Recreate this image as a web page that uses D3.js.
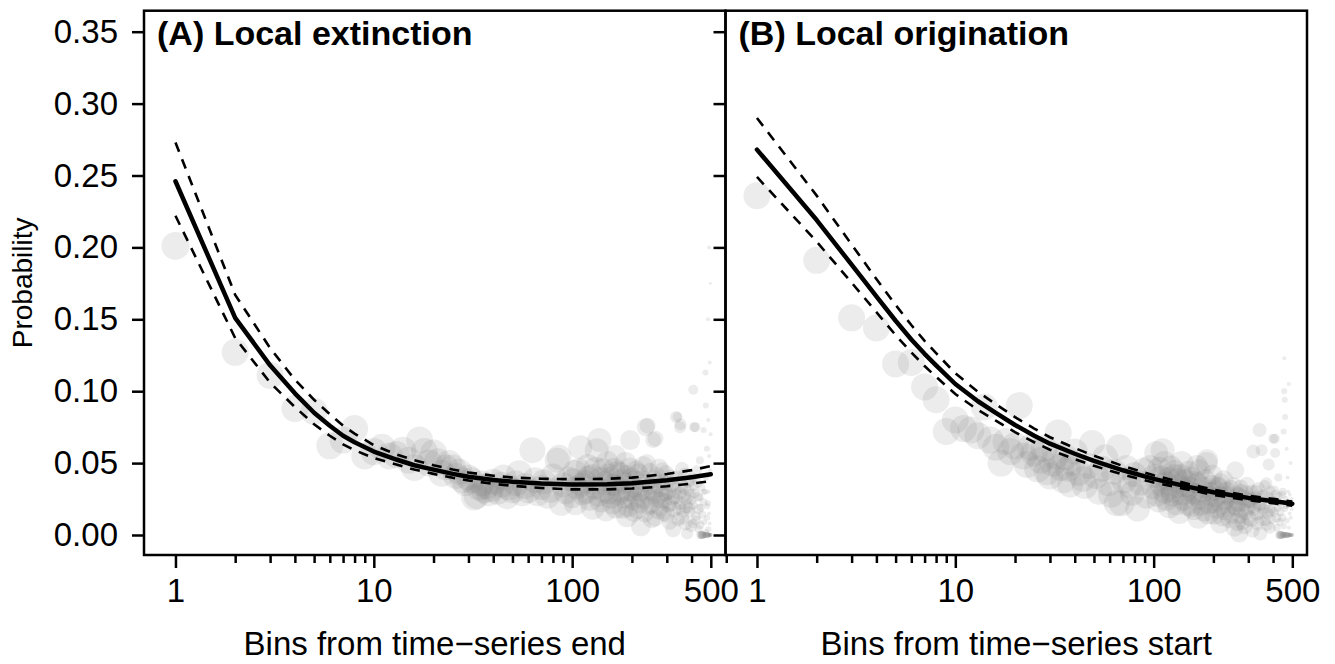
<!DOCTYPE html>
<html>
<head>
<meta charset="utf-8">
<script src="https://cdnjs.cloudflare.com/ajax/libs/d3/7.8.5/d3.min.js"></script>
<style>
  body { margin: 0; background: #fff; }
  svg text { font-family: "Liberation Sans", Arial, Helvetica, sans-serif; fill: #000; }
</style>
</head>
<body>
<script>
// ---- data ----
// scatter points: [bins, probability, radius]
var extPoints = [
  [1,.201,14],[2,.127,13.5],[3,.111,13.5],[4,.088,13.5],[5,.086,13.5],[6,.062,13.5],[7,.066,13.5],
  [8,.074,13.5],[9,.055,13.5],[10,.058,13.5],[11,.061,13.5],[12,.055,13.5],[13,.056,13.5],[14,.059,13.5],
  [15,.052,13.5],[16,.047,13.5],[17,.066,13.5],[18,.058,13.5],[19,.050,13.5],[20,.057,13.5],[21,.051,13.5],
  [22,.043,13.5],[23,.047,13],[24,.050,13],[25,.047,13],[26,.041,13],[27,.044,13],[28,.038,13],[29,.036,13],
  [30,.040,13],[31,.038,13],[32,.026,13],[33,.027,13],[34,.033,13],[35,.036,13],[36,.031,13],[37,.034,13],
  [38,.029,13],[39,.032,13],[40,.037,13],[42,.030,13],[44,.035,13],[45,.040,13],[47,.027,13],[48,.033,13],
  [50,.031,13],[52,.036,13],[54,.043,13],[56,.029,13],[58,.034,13],[60,.031,13],[63,.059,13],[65,.038,13],
  [67,.029,13],[70,.033,12.5],[72,.037,12.5],[75,.027,12.5],[78,.031,12.5],[80,.041,12.5],[84,.052,12.5],
  [86,.054,12.5],[88,.022,12.5],[90,.035,12.5],[93,.030,12.5],[96,.039,12.5],[100,.027,12],[103,.044,12],
  [106,.033,12],[110,.061,12],[113,.029,12],[116,.037,12],[120,.048,12],[123,.025,12],[126,.041,12],
  [130,.033,12],[133,.059,12],[137,.066,12],[140,.024,12],[143,.045,12],[146,.036,12],[150,.051,11],
  [153,.029,11],[156,.040,11],[160,.022,11],[163,.046,11],[165,.055,11],[168,.034,11],[172,.028,11],
  [175,.043,11],[180,.019,11],[183,.036,11],[186,.050,11],[189,.013,11],[192,.031,11],[196,.066,10],
  [199,.040,10],[202,.024,10],[205,.033,10],[210,.045,10],[214,.018,10],[218,.030,10],[222,.006,10],
  [226,.038,10],[230,.025,10],[235,.075,9],[238,.050,9],[240,.076,8],[244,.020,9],[248,.034,9],[252,.011,9],
  [256,.066,8],[260,.028,9],[263,.067,8],[267,.041,9],[272,.017,9],[276,.032,9],[280,.024,9],[285,.045,8],
  [290,.015,8],[295,.029,8],[300,.036,8],[305,.021,8],[310,.009,8],[315,.040,8],[320,.026,8],[323,.004,8],
  [328,.031,8],[334,.082,6],[340,.082,5],[345,.019,7],[350,.075,6],[352,.077,6],[355,.034,7],[360,.012,7],
  [365,.027,7],[370,.042,7],[375,.020,7],[380,.001,6],[386,.031,6],[390,.016,6],[395,.038,6],[400,.024,5],
  [405,.008,5],[408,.101,5],[410,.034,5],[412,.075,5],[418,.075,5],[420,.013,5],[425,.045,5],[430,.027,5],
  [435,.004,4],[440,.052,4],[445,.019,4],[450,0,4],[455,0,4],[460,.073,3],[462,.030,3],[465,0,3],
  [470,.113,3],[472,.090,3],[474,.040,3],[476,0,3],[478,.060,3],[480,.020,3],[482,0,3],[484,.150,2],
  [485,.080,2],[487,0,2],[488,.030,2],[490,.200,2],[491,.055,2],[492,0,2],[494,.120,2],[495,0,2],
  [496,.045,2],[497,.175,1.5],[498,0,2],[499,.070,2],[500,0,2],
  // the dense part of the cloud
  [101,.038,12],[104,.022,12],[108,.045,12],[112,.035,12],[118,.030,12],[121,.040,12],[127,.019,12],
  [131,.046,12],[135,.028,12],[139,.039,12],[144,.031,12],[148,.017,11],[152,.042,11],[157,.026,11],
  [161,.035,11],[166,.019,11],[170,.044,11],[174,.030,11],[178,.038,11],[182,.026,11],[187,.041,11],
  [191,.020,11],[195,.047,10],[200,.030,10],[204,.016,10],[208,.038,10],[212,.026,10],[216,.043,10],
  [220,.022,10],[224,.031,10],[228,.048,10],[233,.015,9],[237,.036,9],[242,.027,9],[246,.044,9],
  [250,.021,9],[254,.030,9],[258,.039,9],[262,.012,9],[265,.025,9],[269,.035,9],[274,.047,9],[278,.019,9],
  [282,.028,8],[287,.037,8],[292,.024,8],[297,.043,8],[302,.014,8],[307,.030,8],[312,.022,8],[318,.035,8],
  [325,.018,8],[331,.027,8],[337,.040,7],[342,.011,7],[348,.029,7],[353,.022,7],[358,.046,7],[362,.017,7],
  [368,.033,7],[372,.008,7],[378,.025,6],[383,.037,6],[388,.019,6],[393,.028,6],[398,.006,6],[403,.040,5],
  [407,.021,5],[415,.029,5],[422,.010,5],[428,.036,5],[433,.018,5],[438,.026,4],[443,.007,4],[448,.033,4],
  [453,.014,4],[458,.023,4],[463,.009,3],[468,.030,3],[473,.002,3],[479,.012,3],[483,.022,3],[486,.004,3],
  [489,.015,2],[493,.008,2],
  [442,0,4],[447,0,4],[452,0,4],[457,0,3],[467,0,3],[472,0,3],[479,0,3],[484,0,3],[489,0,2],[494,0,2],[497,0,2]
];

var origPoints = [
  [1,.236,13.5],[2,.191,13.5],[3,.151,13.5],[4,.144,13.5],[5,.119,13.5],[6,.120,13.5],[7,.103,13.5],
  [8,.094,13.5],[9,.072,13.5],[10,.080,13.5],[11,.074,13.5],[12,.073,13.5],[13,.069,13.5],[14,.089,13.5],
  [15,.066,13.5],[16,.061,13.5],[17,.050,13.5],[18,.065,13.5],[19,.058,13.5],[20,.062,13.5],[21,.090,13.5],
  [22,.055,13.5],[23,.049,13.5],[24,.061,13.5],[25,.057,13.5],[26,.046,13.5],[27,.052,13.5],[28,.060,13.5],
  [29,.044,13.5],[30,.041,13.5],[31,.050,13.5],[32,.055,13.5],[33,.071,13.5],[34,.047,13.5],[35,.038,13],
  [36,.054,13],[37,.046,13],[38,.035,13],[39,.050,13],[40,.058,13],[42,.043,13],[44,.039,13],[45,.034,13],
  [47,.048,13],[49,.064,13],[51,.041,13],[53,.030,13],[55,.046,13],[57,.054,13],[59,.036,13],[61,.028,13],
  [63,.044,13],[65,.022,13],[67,.061,13],[69,.022,13],[71,.038,13],[73,.047,12.5],[76,.034,12.5],
  [78,.029,12.5],[80,.042,12.5],[83,.018,12.5],[86,.036,12.5],[89,.045,12.5],[92,.027,12.5],[96,.047,12.5],
  [100,.033,12],[103,.057,12],[106,.024,12],[109,.040,12],[111,.059,12],[114,.030,12],[117,.036,12],
  [120,.020,12],[122,.047,12],[125,.028,12],[128,.041,12],[132,.038,12],[135,.016,12],[138,.050,12],
  [142,.025,12],[145,.034,11],[147,.031,11],[150,.044,11],[154,.020,11],[158,.029,11],[162,.037,11],
  [165,.048,11],[168,.012,11],[172,.025,11],[176,.033,11],[180,.017,11],[185,.050,11],[186,.052,11],
  [190,.022,11],[194,.030,10],[198,.042,10],[202,.014,10],[206,.026,10],[210,.034,10],[212,.033,10],
  [216,.008,10],[220,.021,10],[225,.038,10],[230,.017,10],[235,.028,9],[240,.011,9],[245,.032,9],
  [250,.023,9],[255,.005,9],[258,.045,9],[262,.019,9],[266,.027,9],[270,.001,9],[272,.013,8],[276,.030,8],
  [280,.009,8],[285,.022,8],[290,.016,8],[295,.035,8],[300,.012,8],[305,.025,8],[311,.024,8],[315,.003,7],
  [318,.058,7],[322,.018,7],[328,.030,7],[334,.008,7],[340,.021,7],[342,.073,7],[345,.001,7],[350,.059,6],
  [355,.015,6],[360,.028,6],[365,.010,6],[370,.036,6],[375,.015,6],[380,.049,6],[385,.005,6],[390,.025,5],
  [395,.018,5],[401,.067,5],[405,.031,5],[408,.067,5],[410,.057,5],[415,.012,5],[420,.023,4],[425,.040,4],
  [430,0,4],[435,.016,4],[440,0,4],[445,.028,4],[450,0,3],[452,.072,3],[455,.100,3],[456,.123,2],
  [458,.094,3],[460,.082,3],[462,0,3],[465,.020,3],[468,.060,2],[470,0,3],[473,.040,2],[476,0,3],
  [478,.030,2],[480,.105,2],[482,0,2],[485,.015,2],[488,0,2],[490,.050,2],[493,0,2],[496,.025,2],[500,0,2],
  // the dense part of the cloud
  [101,.041,12],[104,.028,12],[107,.046,12],[110,.035,12],[113,.050,12],[116,.025,12],[119,.039,12],
  [124,.031,12],[127,.044,12],[130,.022,12],[133,.034,12],[137,.041,12],[140,.029,12],[144,.038,11],
  [148,.021,11],[152,.033,11],[156,.040,11],[160,.018,11],[164,.028,11],[167,.036,11],[170,.045,11],
  [174,.021,11],[178,.030,11],[182,.038,11],[188,.015,11],[192,.027,10],[196,.035,10],[200,.022,10],
  [204,.031,10],[208,.018,10],[214,.027,10],[218,.036,10],[222,.013,10],[227,.024,10],[232,.031,9],
  [238,.019,9],[242,.026,9],[248,.014,9],[252,.034,9],[256,.020,9],[260,.028,9],[264,.009,9],[268,.022,9],
  [274,.033,8],[278,.017,8],[283,.026,8],[288,.006,8],[292,.029,8],[297,.019,8],[302,.024,8],[308,.011,8],
  [313,.030,7],[320,.020,7],[325,.026,7],[331,.015,7],[337,.032,7],[344,.022,7],[348,.010,6],[352,.027,6],
  [358,.018,6],[363,.034,6],[368,.022,6],[373,.007,6],[378,.026,6],[383,.017,6],[388,.031,5],[393,.011,5],
  [398,.024,5],[403,.016,5],[412,.028,5],[418,.005,4],[423,.019,4],[428,.027,4],[433,.009,4],[438,.021,4],
  [443,.012,4],[448,.030,4],[453,.006,3],[459,.018,3],[464,.025,3],[469,.010,3],[475,.020,2],[481,.005,2],
  [486,.028,2],[492,.012,2],[497,.018,2],
  [432,0,4],[437,0,4],[443,0,4],[447,0,3],[453,0,3],[458,0,3],[464,0,3],[467,0,3],[473,0,3],[479,0,2],
  [484,0,2],[487,0,2],[491,0,2],[495,0,2],[498,0,2]
];

// fitted curves (with upper / lower bands), evaluated at these bins
var fitX = [1,2,3,4,5,6,7,8,10,13,16,20,25,30,40,50,70,100,150,200,300,400,500];
var extFit   = [.246,.151,.118,.0985,.085,.076,.069,.0645,.058,.0525,.0485,.0455,.0425,.0405,.0383,.0370,.0358,.0352,.0353,.0360,.0380,.0402,.0422];
var extUpper = [.273,.167,.130,.108,.094,.084,.076,.0705,.0625,.056,.052,.0485,.0455,.0435,.0412,.0400,.0391,.0388,.0391,.0399,.0424,.0451,.0479];
var extLower = [.222,.137,.106,.089,.077,.069,.063,.059,.0535,.049,.0455,.0425,.0398,.0379,.0356,.0342,.0327,.0317,.0317,.0323,.0339,.0357,.0375];
var origFit   = [.268,.219,.188,.166,.149,.136,.126,.118,.105,.093,.085,.0765,.069,.0635,.0565,.0515,.045,.039,.0335,.0297,.0258,.0236,.0218];
var origUpper = [.290,.236,.202,.178,.160,.146,.135,.1265,.1125,.0995,.091,.082,.074,.068,.0605,.0551,.048,.0415,.0355,.0315,.0274,.0251,.0233];
var origLower = [.249,.204,.1755,.155,.139,.127,.1175,.110,.098,.087,.0795,.0715,.0645,.0593,.0527,.0481,.042,.0365,.0315,.0279,.0242,.0221,.0203];

var yTicks = [0, 0.05, 0.10, 0.15, 0.20, 0.25, 0.30, 0.35];
var xMajorTicks = [1, 10, 100, 500];
var xMinorTicks = [2,3,4,5,6,7,8,9,20,30,40,50,60,70,80,90,200,300,400];

// ---- layout ----
var WIDTH = 1335, HEIGHT = 664;
var TOP = 10.7, BOTTOM = 555;
var PANEL_W = 581.5;
var FS = 33; // font size used for axis text

var panels = [
  {id: "a", left: 144, title: "(A) Local extinction", xlab: "Bins from time\u2212series end",
   pts: extPoints, fit: extFit, hi: extUpper, lo: extLower, ylabels: true, minor: xMinorTicks},
  {id: "b", left: 725.5, title: "(B) Local origination", xlab: "Bins from time\u2212series start",
   pts: origPoints, fit: origFit, hi: origUpper, lo: origLower, ylabels: false, minor: [0.7].concat(xMinorTicks)}
];

var svg = d3.select("body").append("svg")
    .attr("width", WIDTH)
    .attr("height", HEIGHT);

var y = d3.scaleLinear().domain([0, 0.35]).range([535, 31.7]);

panels.forEach(function(p) {
  var x = d3.scaleLog().domain([0.694, 593]).range([p.left, p.left + PANEL_W]);

  svg.append("clipPath").attr("id", "clip-" + p.id)
    .append("rect")
      .attr("x", p.left).attr("y", TOP)
      .attr("width", PANEL_W).attr("height", BOTTOM - TOP);

  var g = svg.append("g").attr("clip-path", "url(#clip-" + p.id + ")");

  // grey bubbles
  g.selectAll("circle")
    .data(p.pts)
    .enter().append("circle")
      .attr("cx", function(d) { return x(d[0]); })
      .attr("cy", function(d) { return y(d[1]); })
      .attr("r", function(d) { return d[2]; })
      .attr("fill", "#808080")
      .attr("fill-opacity", 0.15);

  var line = d3.line()
      .x(function(d) { return x(d[0]); })
      .y(function(d) { return y(d[1]); });

  function pairs(vals) { return fitX.map(function(v, i) { return [v, vals[i]]; }); }

  g.append("path")
      .attr("d", line(pairs(p.fit)))
      .attr("fill", "none")
      .attr("stroke", "#000")
      .attr("stroke-width", 4.5)
      .attr("stroke-linecap", "round")
      .attr("stroke-linejoin", "round");

  [p.hi, p.lo].forEach(function(band) {
    g.append("path")
        .attr("d", line(pairs(band)))
        .attr("fill", "none")
        .attr("stroke", "#000")
        .attr("stroke-width", 2.6)
        .attr("stroke-dasharray", "10,8");
  });

  // frame
  svg.append("rect")
      .attr("x", p.left).attr("y", TOP)
      .attr("width", PANEL_W).attr("height", BOTTOM - TOP)
      .attr("fill", "none")
      .attr("stroke", "#000")
      .attr("stroke-width", 2.5);

  // y axis
  var yAxis = d3.axisLeft(y).tickValues(yTicks).tickSize(12).tickPadding(14)
      .tickFormat(p.ylabels ? d3.format(".2f") : "");
  var ya = svg.append("g")
      .attr("transform", "translate(" + p.left + ",0)")
      .call(yAxis);
  ya.select(".domain").remove();

  // x axis, major + minor ticks
  var xa = svg.append("g")
      .attr("transform", "translate(0," + BOTTOM + ")")
      .call(d3.axisBottom(x).tickValues(xMajorTicks).tickSize(13).tickPadding(11)
        .tickFormat(d3.format("d")));
  xa.select(".domain").remove();
  var xm = svg.append("g")
      .attr("transform", "translate(0," + BOTTOM + ")")
      .call(d3.axisBottom(x).tickValues(p.minor).tickSize(8).tickFormat(""));
  xm.select(".domain").remove();

  [ya, xa, xm].forEach(function(a) {
    a.attr("font-size", FS).attr("font-family", null);
    a.selectAll(".tick line").attr("stroke-width", 2.5);
  });

  // panel title
  svg.append("text")
      .attr("x", p.left + 13)
      .attr("y", 45)
      .attr("font-size", 34)
      .attr("font-weight", "bold")
      .text(p.title);

  // x axis title
  svg.append("text")
      .attr("x", p.left + PANEL_W / 2)
      .attr("y", 655)
      .attr("text-anchor", "middle")
      .attr("font-size", FS)
      .text(p.xlab);
});

// y axis title
svg.append("text")
    .attr("transform", "translate(32," + ((TOP + BOTTOM) / 2) + ") rotate(-90)")
    .attr("text-anchor", "middle")
    .attr("font-size", 28)
    .text("Probability");
</script>
</body>
</html>
